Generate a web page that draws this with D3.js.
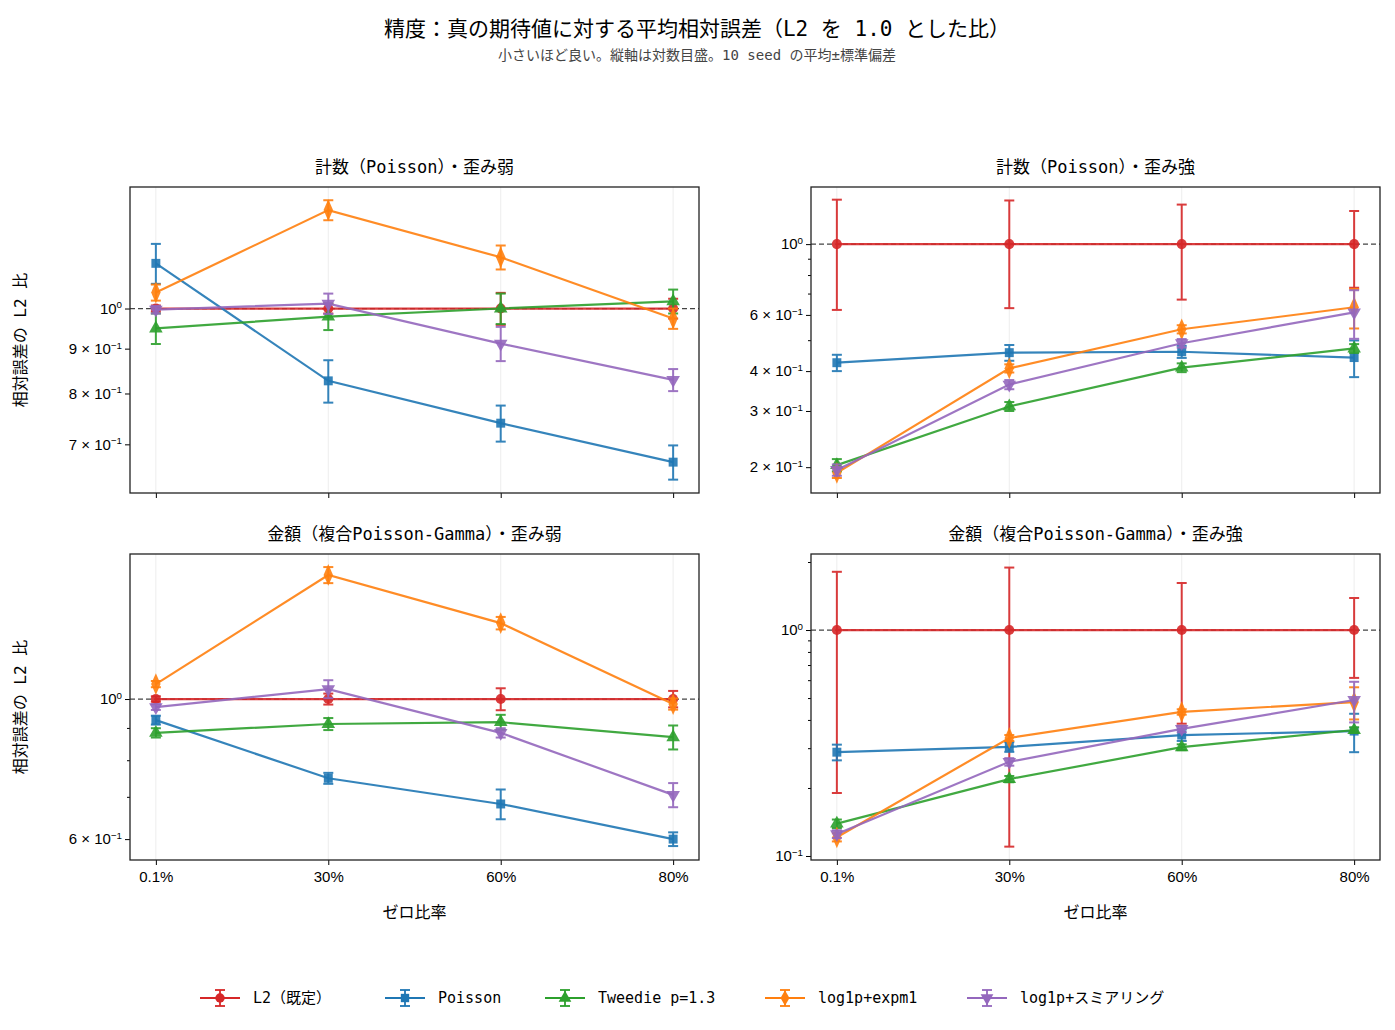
<!DOCTYPE html>
<html><head><meta charset="utf-8">
<script src="https://cdn.jsdelivr.net/npm/d3@7/dist/d3.min.js"></script>
<style>body{margin:0;background:#fff}svg{font-family:"DejaVu Sans Mono","Noto Sans CJK JP",monospace}</style>
</head><body><svg id="c" width="1395" height="1030"></svg>
<script>
const categories = ["0.1%","30%","60%","80%"];
const seriesNames = ["L2（既定）","Poisson","Tweedie p=1.3","log1p+expm1","log1p+スミアリング"];
const colors = ["#d62728","#1f77b4","#2ca02c","#ff7f0e","#9467bd"];
const panelTitles = ["計数（Poisson）・歪み弱","計数（Poisson）・歪み強","金額（複合Poisson-Gamma）・歪み弱","金額（複合Poisson-Gamma）・歪み強"];
// mean values per panel: [L2, Poisson, Tweedie, log1p+expm1, smearing]
const meanP1 = [[1,1,1,1],[1.126,0.827,0.740,0.668],[0.949,0.979,1.0,1.019],[1.043,1.295,1.144,0.974],[0.997,1.013,0.912,0.829]];
const stdP1  = [[0.008,0.013,0.042,0.026],[0.059,0.046,0.035,0.030],[0.038,0.034,0.040,0.032],[0.022,0.034,0.036,0.026],[0.010,0.027,0.041,0.024]];
const meanP2 = [[1,1,1,1],[0.425,0.457,0.460,0.441],[0.203,0.310,0.410,0.471],[0.192,0.408,0.541,0.634],[0.196,0.363,0.489,0.611]];
const stdP2  = [[0.378,0.37,0.33,0.27],[0.025,0.026,0.020,0.058],[0.009,0.010,0.013,0.015],[0.007,0.012,0.016,0.09],[0.008,0.012,0.015,0.106]];
const meanP3 = [[1,1,1,1],[0.926,0.749,0.682,0.600],[0.884,0.913,0.919,0.870],[1.056,1.572,1.319,0.982],[0.971,1.037,0.884,0.705]];
const stdP3  = [[0.01,0.02,0.04,0.03],[0.015,0.015,0.037,0.015],[0.015,0.02,0.025,0.038],[0.012,0.046,0.03,0.02],[0.01,0.034,0.015,0.031]];
const meanP4 = [[1,1,1,1],[0.288,0.304,0.343,0.357],[0.139,0.219,0.303,0.361],[0.121,0.333,0.434,0.480],[0.125,0.261,0.365,0.490]];
const stdP4  = [[0.81,0.89,0.615,0.386],[0.023,0.015,0.02,0.069],[0.006,0.007,0.009,0.01],[0.005,0.01,0.012,0.078],[0.005,0.01,0.012,0.1]];
const domains = [[0.616,1.376],[0.166,1.51],[0.556,1.697],[0.096,2.17]];
const majorTicks = [[1,0.9,0.8,0.7],[1,0.6,0.4,0.3,0.2],[1,0.6],[1,0.1]];
const minorTicks = [[],[0.5,0.7,0.8,0.9],[0.7,0.8,0.9],[0.2,0.3,0.4,0.5,0.6,0.7,0.8,0.9,2]];
const means=[meanP1,meanP2,meanP3,meanP4], stds=[stdP1,stdP2,stdP3,stdP4];
const svg=d3.select("#c");
svg.append("text").attr("x",697).attr("y",36).attr("text-anchor","middle").attr("font-size",21).text("精度：真の期待値に対する平均相対誤差（L2 を 1.0 とした比）");
svg.append("text").attr("x",697).attr("y",60).attr("text-anchor","middle").attr("font-size",14).attr("fill","#444").text("小さいほど良い。縦軸は対数目盛。10 seed の平均±標準偏差");
const boxes=[[130,187],[811,187],[130,554],[811,554]], W=569, H=306;
function setLabel(sel){
  sel.each(function(v){
    const t=d3.select(this); t.text("");
    const e=Math.floor(Math.log10(v)+1e-9), m=Math.round(v/Math.pow(10,e));
    t.append("tspan").text((m===1?"":m+" × ")+"10");
    t.append("tspan").attr("dy","-0.55em").attr("font-size","0.65em").text(e<0?"−"+(-e):String(e));
  });
}
const symbols=[d3.symbolCircle,d3.symbolSquare,d3.symbolTriangle,d3.symbolDiamond,d3.symbolTriangle];
boxes.forEach(([x0,y0],p)=>{
  const g=svg.append("g").attr("transform",`translate(${x0},${y0})`);
  const x=d3.scalePoint().domain(categories).range([0,W]).padding(0.15);
  const y=d3.scaleLog().domain(domains[p]).range([H,0]);
  g.selectAll(".gr").data(categories).join("line").attr("x1",d=>x(d)).attr("x2",d=>x(d)).attr("y1",0).attr("y2",H).attr("stroke","#e8e8e8").attr("stroke-width",0.8);
  g.append("line").attr("x1",0).attr("x2",W).attr("y1",y(1)).attr("y2",y(1)).attr("stroke","#444").attr("stroke-width",1.2).attr("stroke-dasharray","5,3");
  const ya=g.append("g").call(d3.axisLeft(y).tickValues(majorTicks[p]).tickSize(5));
  ya.selectAll("text").attr("font-size",15).attr("fill","#000").call(setLabel);
  ya.select(".domain").remove();
  g.append("g").call(d3.axisLeft(y).tickValues(minorTicks[p]).tickFormat("").tickSize(3)).select(".domain").remove();
  const xa=g.append("g").attr("transform",`translate(0,${H})`).call(d3.axisBottom(x).tickSize(5).tickFormat(p<2?"":d=>d));
  xa.selectAll("text").attr("font-size",15).attr("fill","#000").attr("dy","0.9em");
  xa.select(".domain").remove();
  means[p].forEach((ser,s)=>{
    const c=colors[s], sd=stds[p][s];
    const pts=ser.map((v,i)=>({x:x(categories[i]),v,lo:Math.max(v-sd[i],domains[p][0]*0.5),hi:v+sd[i]}));
    g.append("path").datum(pts).attr("d",d3.line().x(d=>d.x).y(d=>y(d.v))).attr("fill","none").attr("stroke",c).attr("stroke-width",2.2).attr("opacity",0.9);
    pts.forEach(d=>{
      const eg=g.append("g").attr("stroke",c).attr("stroke-width",2).attr("opacity",0.9);
      eg.append("line").attr("x1",d.x).attr("x2",d.x).attr("y1",y(d.lo)).attr("y2",y(d.hi));
      [d.lo,d.hi].forEach(v=>{ if(v>=domains[p][0]) eg.append("line").attr("x1",d.x-5).attr("x2",d.x+5).attr("y1",y(v)).attr("y2",y(v));});
      g.append("path").attr("d",d3.symbol().type(symbols[s]).size(s===3?95:80)).attr("transform",`translate(${d.x},${y(d.v)})${s===4?" rotate(180)":""}${s===3?" scale(0.9,1.2)":""}`).attr("fill",c).attr("opacity",0.9);
    });
  });
  g.append("rect").attr("width",W).attr("height",H).attr("fill","none").attr("stroke","#222").attr("stroke-width",1.3);
  g.append("text").attr("x",W/2).attr("y",-14).attr("text-anchor","middle").attr("font-size",17).text(panelTitles[p]);
  if(p>=2) g.append("text").attr("x",W/2).attr("y",H+58).attr("text-anchor","middle").attr("font-size",16).text("ゼロ比率");
  if(p%2===0) g.append("text").attr("transform",`translate(${-104},${H/2}) rotate(-90)`).attr("text-anchor","middle").attr("font-size",16).text("相対誤差の L2 比");
});
const lx=[200,385,545,765,967];
seriesNames.forEach((n,s)=>{
  const g=svg.append("g").attr("transform",`translate(${lx[s]},998)`), c=colors[s];
  g.append("line").attr("x1",0).attr("x2",40).attr("stroke",c).attr("stroke-width",2);
  g.append("line").attr("x1",20).attr("x2",20).attr("y1",-8).attr("y2",8).attr("stroke",c).attr("stroke-width",1.8);
  g.append("line").attr("x1",15).attr("x2",25).attr("y1",-8).attr("y2",-8).attr("stroke",c).attr("stroke-width",1.8);
  g.append("line").attr("x1",15).attr("x2",25).attr("y1",8).attr("y2",8).attr("stroke",c).attr("stroke-width",1.8);
  g.append("path").attr("d",d3.symbol().type(symbols[s]).size(70)).attr("transform",`translate(20,0)${s===4?" rotate(180)":""}`).attr("fill",c);
  g.append("text").attr("x",53).attr("y",5).attr("font-size",15).text(n);
});
</script></body></html>
